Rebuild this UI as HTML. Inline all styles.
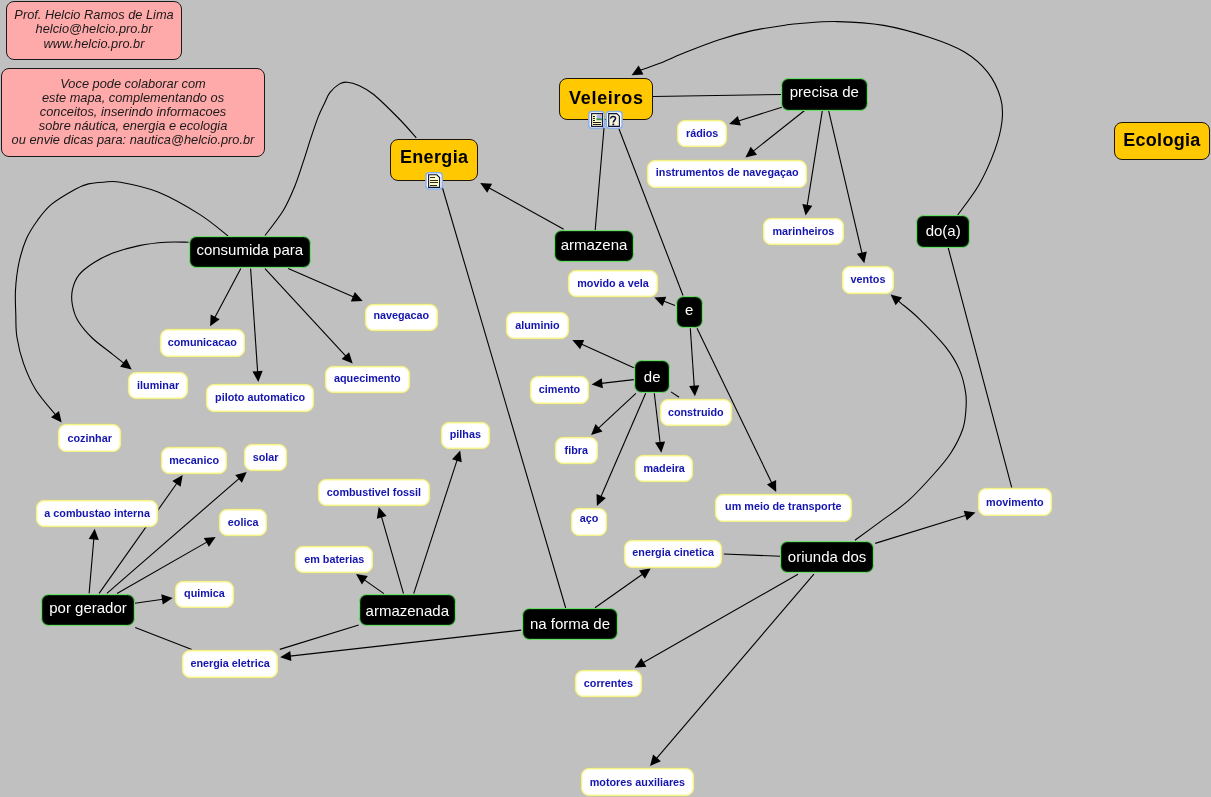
<!DOCTYPE html><html><head><meta charset="utf-8"><style>
*{margin:0;padding:0;box-sizing:border-box}
html,body{width:1211px;height:797px;overflow:hidden;background:#c0c0c0}
body{position:relative;font-family:"Liberation Sans",sans-serif}
svg.e{position:absolute;left:0;top:0}
svg.e path{fill:none;stroke:#000;stroke-width:1.1}
svg.e polygon{fill:#000}
.n{position:absolute;will-change:transform;display:flex;align-items:center;justify-content:center;white-space:nowrap}
.Y{background:#ffc800;border:1px solid #1e1408;border-radius:8px;font-weight:bold;font-size:18px;color:#000;padding-bottom:3px}
.B{background:#000;border:1.8px solid #6ade6a;box-shadow:inset 0 0 0.8px 0.6px #1a5a1a;border-radius:7.5px;font-size:15px;color:#fff;padding-bottom:4px}
.W{background:#fff;border:1.6px solid #f4f288;box-shadow:0 0 0 0.5px #cfcc90,inset 0 0 0.6px 0.8px #fbfabc;border-radius:8px;font-weight:bold;font-size:10.8px;color:#1414b0;padding-bottom:2px}
.P{position:absolute;will-change:transform;background:#ffaaaa;border:1px solid #1a1a1a;border-radius:8px;font-style:italic;font-size:12.8px;color:#1a1a1a;text-align:center;line-height:14.2px}
svg.ic{position:absolute}
</style></head><body>
<svg class="e" width="1211" height="797" viewBox="0 0 1211 797">
<path d="M604.00,128.00 L595.20,230.00"/>
<path d="M619.00,129.00 L683.00,295.50"/>
<path d="M563.70,229.20 L488.77,187.74"/>
<polygon points="480.2,183.0 492.1,183.8 487.2,192.7"/>
<path d="M442.50,188.00 L565.70,608.00"/>
<path d="M416.30,137.80 C413.47,134.67 406.40,126.22 399.30,119.00 C392.20,111.78 380.45,100.10 373.70,94.50 C366.95,88.90 363.25,87.45 358.80,85.40 C354.35,83.35 350.20,82.45 347.00,82.20 C343.80,81.95 342.43,82.20 339.60,83.90 C336.77,85.60 332.50,89.22 330.00,92.40 C327.50,95.58 326.57,98.92 324.60,103.00 C322.63,107.08 320.50,111.03 318.20,116.90 C315.90,122.77 313.28,130.73 310.80,138.20 C308.32,145.67 305.97,153.70 303.30,161.70 C300.63,169.70 298.17,178.02 294.80,186.20 C291.43,194.38 288.07,202.58 283.10,210.80 C278.13,219.02 268.02,231.38 265.00,235.50"/>
<path d="M653.00,96.50 L782.50,94.50"/>
<path d="M781.80,107.20 L738.44,121.02"/>
<polygon points="729.1,124.0 737.8,115.9 740.9,125.6"/>
<path d="M804.90,110.20 L753.08,151.31"/>
<polygon points="745.4,157.4 750.7,146.7 757.0,154.7"/>
<path d="M822.40,110.20 L807.14,205.92"/>
<polygon points="805.6,215.6 802.3,204.1 812.3,205.7"/>
<path d="M828.50,110.20 L862.07,253.66"/>
<polygon points="864.3,263.2 856.9,253.8 866.8,251.5"/>
<path d="M957.30,215.50 C960.92,210.37 972.75,195.60 979.00,184.70 C985.25,173.80 990.97,160.68 994.80,150.10 C998.63,139.52 1001.03,129.87 1002.00,121.20 C1002.97,112.53 1003.00,106.27 1000.60,98.10 C998.20,89.93 993.62,79.88 987.60,72.20 C981.58,64.52 974.12,57.78 964.50,52.00 C954.88,46.22 943.37,41.93 929.90,37.50 C916.43,33.07 899.10,28.05 883.70,25.40 C868.30,22.75 851.45,21.92 837.50,21.60 C823.55,21.28 808.72,22.90 800.00,23.50 C791.28,24.10 793.18,24.02 785.20,25.20 C777.22,26.38 763.12,28.18 752.10,30.60 C741.08,33.02 730.10,36.12 719.10,39.70 C708.10,43.28 695.73,48.25 686.10,52.10 C676.47,55.95 668.73,59.85 661.30,62.80 C653.87,65.75 645.02,68.52 641.50,69.80 C637.98,71.08 640.42,70.39 640.20,70.51"/>
<polygon points="631.6,75.2 638.6,65.6 643.5,74.5"/>
<path d="M1011.80,487.90 L948.00,247.00"/>
<path d="M875.20,543.40 L966.14,515.29"/>
<polygon points="975.5,512.4 966.7,520.5 963.7,510.7"/>
<path d="M854.90,540.20 C859.53,536.82 873.80,526.48 882.70,519.90 C891.60,513.32 899.77,508.35 908.30,500.70 C916.83,493.05 926.78,482.00 933.90,474.00 C941.02,466.00 946.20,460.17 951.00,452.70 C955.80,445.23 960.22,436.32 962.70,429.20 C965.18,422.08 965.42,416.13 965.90,410.00 C966.38,403.87 966.68,399.13 965.60,392.40 C964.52,385.67 962.77,377.22 959.40,369.60 C956.03,361.98 952.13,355.20 945.40,346.70 C938.67,338.20 926.47,325.92 919.00,318.60 C911.53,311.28 904.08,305.78 900.60,302.80 C897.12,299.82 898.52,301.05 898.10,300.70"/>
<polygon points="890.6,294.4 902.1,297.4 895.6,305.3"/>
<path d="M723.80,554.00 L780.60,556.30"/>
<path d="M798.00,574.30 L643.01,662.84"/>
<polygon points="634.5,667.7 641.3,657.9 646.4,666.8"/>
<path d="M813.90,574.10 L656.36,758.65"/>
<polygon points="650.0,766.1 653.1,754.6 660.9,761.2"/>
<path d="M595.00,607.80 L642.80,573.96"/>
<polygon points="650.8,568.3 644.9,578.7 639.0,570.4"/>
<path d="M521.20,630.10 L289.84,656.11"/>
<polygon points="280.1,657.2 290.3,650.9 291.4,661.1"/>
<path d="M358.70,625.00 L279.80,649.40"/>
<path d="M135.20,627.40 L191.80,649.40"/>
<path d="M89.10,593.40 L93.85,538.46"/>
<polygon points="94.7,528.7 98.8,539.9 88.7,539.0"/>
<path d="M99.10,593.40 L177.05,483.01"/>
<polygon points="182.7,475.0 180.6,486.8 172.3,480.9"/>
<path d="M106.90,593.40 L239.30,478.33"/>
<polygon points="246.7,471.9 241.9,482.8 235.2,475.1"/>
<path d="M117.00,593.40 L207.19,541.86"/>
<polygon points="215.7,537.0 208.9,546.8 203.8,537.9"/>
<path d="M134.80,603.20 L162.99,599.26"/>
<polygon points="172.7,597.9 162.7,604.4 161.3,594.3"/>
<path d="M383.90,593.60 L364.02,579.63"/>
<polygon points="356.0,574.0 367.8,576.0 361.9,584.4"/>
<path d="M403.50,593.60 L381.40,516.42"/>
<polygon points="378.7,507.0 386.6,516.0 376.8,518.8"/>
<path d="M413.70,593.60 L457.17,459.82"/>
<polygon points="460.2,450.5 461.7,462.3 452.0,459.2"/>
<path d="M675.00,305.50 L663.46,301.09"/>
<polygon points="654.3,297.6 666.2,296.7 662.6,306.2"/>
<path d="M690.30,328.30 L694.24,386.52"/>
<polygon points="694.9,396.3 689.1,385.9 699.3,385.2"/>
<path d="M697.00,328.30 L771.93,483.18"/>
<polygon points="776.2,492.0 766.9,484.5 776.1,480.1"/>
<path d="M633.80,367.80 L581.24,344.12"/>
<polygon points="572.3,340.1 584.2,339.9 580.1,349.2"/>
<path d="M633.80,379.60 L601.33,383.37"/>
<polygon points="591.6,384.5 601.7,378.2 602.9,388.3"/>
<path d="M635.90,393.30 L598.27,428.41"/>
<polygon points="591.1,435.1 595.5,424.0 602.5,431.5"/>
<path d="M645.70,393.30 L600.80,496.91"/>
<polygon points="596.9,505.9 596.5,494.0 605.9,498.0"/>
<path d="M654.30,393.30 L660.15,442.97"/>
<polygon points="661.3,452.7 655.0,442.6 665.1,441.4"/>
<path d="M671.00,391.90 L679.10,397.30"/>
<path d="M240.80,268.60 L214.70,317.65"/>
<polygon points="210.1,326.3 210.7,314.4 219.7,319.2"/>
<path d="M250.60,268.60 L257.64,372.12"/>
<polygon points="258.3,381.9 252.5,371.5 262.7,370.8"/>
<path d="M265.00,268.60 L346.05,356.40"/>
<polygon points="352.7,363.6 341.6,359.1 349.1,352.2"/>
<path d="M288.20,268.60 L353.71,297.09"/>
<polygon points="362.7,301.0 350.8,301.4 354.8,292.0"/>
<path d="M188.50,242.20 C184.68,242.20 173.82,241.63 165.60,242.20 C157.38,242.77 147.98,243.78 139.20,245.60 C130.42,247.42 120.42,250.28 112.90,253.10 C105.38,255.92 99.75,258.88 94.10,262.50 C88.45,266.12 82.62,270.25 79.00,274.80 C75.38,279.35 73.50,284.77 72.40,289.80 C71.30,294.83 71.45,299.80 72.40,305.00 C73.35,310.20 74.80,315.50 78.10,321.00 C81.40,326.50 86.72,332.67 92.20,338.00 C97.68,343.33 105.70,348.78 111.00,353.00 C116.30,357.22 121.85,361.60 124.02,363.31"/>
<polygon points="131.7,369.4 120.1,366.7 126.4,358.7"/>
<path d="M228.00,236.00 C223.33,232.43 211.67,221.93 200.00,214.60 C188.33,207.27 171.27,197.40 158.00,192.00 C144.73,186.60 129.48,183.83 120.40,182.20 C111.32,180.57 108.83,181.92 103.50,182.20 C98.17,182.48 93.10,182.73 88.40,183.90 C83.70,185.07 81.42,185.82 75.30,189.20 C69.18,192.58 57.98,199.03 51.70,204.20 C45.42,209.37 41.83,214.40 37.60,220.20 C33.37,226.00 29.43,231.78 26.30,239.00 C23.17,246.22 20.60,255.00 18.80,263.50 C17.00,272.00 16.00,281.50 15.50,290.00 C15.00,298.50 15.57,306.67 15.80,314.50 C16.03,322.33 15.62,328.85 16.90,337.00 C18.18,345.15 20.37,354.62 23.50,363.40 C26.63,372.18 30.35,381.11 35.70,389.70 C41.05,398.29 52.30,410.71 55.62,414.91"/>
<polygon points="61.7,422.6 51.0,417.3 59.0,411.0"/>
</svg>
<div class="n Y" style="left:559px;top:78px;width:94.0px;height:42.0px;letter-spacing:0.7px;padding-bottom:2px;padding-left:0.7px">Veleiros</div>
<div class="n Y" style="left:390px;top:139px;width:88.0px;height:41.5px;letter-spacing:0.35px;padding-bottom:5px;padding-left:0.35px">Energia</div>
<div class="n Y" style="left:1114px;top:122px;width:95.5px;height:38.0px;letter-spacing:0.3px;padding-bottom:2px;padding-left:0.3px">Ecologia</div>
<div class="n B" style="left:781.3px;top:77.5px;width:86.7px;height:32.5px;padding-bottom:6px">precisa de</div>
<div class="n B" style="left:915.7px;top:215.1px;width:54.4px;height:33.0px;padding-bottom:3px">do(a)</div>
<div class="n B" style="left:554.0px;top:229.7px;width:80.0px;height:32.2px;">armazena</div>
<div class="n B" style="left:188.5px;top:235.5px;width:121.5px;height:31.7px;">consumida para</div>
<div class="n B" style="left:40.5px;top:593.5px;width:94.0px;height:32.0px;padding-bottom:6px">por gerador</div>
<div class="n B" style="left:359.4px;top:593.6px;width:96.6px;height:32.4px;padding-bottom:0">armazenada</div>
<div class="n B" style="left:522.2px;top:607.7px;width:95.9px;height:32.3px;padding-bottom:2px">na forma de</div>
<div class="n B" style="left:675.5px;top:295.7px;width:26.5px;height:31.8px;">e</div>
<div class="n B" style="left:634.0px;top:359.5px;width:36.3px;height:32.8px;padding-bottom:0;padding-top:1.2px">de</div>
<div class="n B" style="left:780.2px;top:541.3px;width:94.1px;height:31.9px;padding-bottom:0.5px">oriunda dos</div>
<div class="n W" style="left:677px;top:120px;width:50.3px;height:27.3px;">rádios</div>
<div class="n W" style="left:647px;top:160px;width:160.4px;height:27.5px;padding-bottom:4px">instrumentos de navegaçao</div>
<div class="n W" style="left:762.5px;top:218px;width:80.8px;height:27.2px;">marinheiros</div>
<div class="n W" style="left:842.2px;top:265.5px;width:52.0px;height:28.1px;">ventos</div>
<div class="n W" style="left:978.2px;top:488.3px;width:73.8px;height:27.5px;padding-bottom:0.5px">movimento</div>
<div class="n W" style="left:159.5px;top:328.7px;width:84.5px;height:27.7px;">comunicacao</div>
<div class="n W" style="left:128px;top:372.2px;width:60.2px;height:26.6px;padding-bottom:0">iluminar</div>
<div class="n W" style="left:205.7px;top:384.4px;width:108.1px;height:27.6px;">piloto automatico</div>
<div class="n W" style="left:58.3px;top:424.2px;width:63.4px;height:27.5px;padding-bottom:0">cozinhar</div>
<div class="n W" style="left:364.7px;top:304px;width:72.6px;height:27.2px;padding-bottom:6px">navegacao</div>
<div class="n W" style="left:324.5px;top:366px;width:84.6px;height:26.9px;">aquecimento</div>
<div class="n W" style="left:161px;top:446.8px;width:66.3px;height:27.2px;">mecanico</div>
<div class="n W" style="left:244px;top:444px;width:43.3px;height:27.0px;">solar</div>
<div class="n W" style="left:36px;top:500px;width:122.2px;height:27.1px;">a combustao interna</div>
<div class="n W" style="left:219px;top:509px;width:48.2px;height:27.0px;">eolica</div>
<div class="n W" style="left:174.6px;top:581px;width:58.9px;height:26.5px;">quimica</div>
<div class="n W" style="left:182px;top:650.3px;width:96.1px;height:27.7px;">energia eletrica</div>
<div class="n W" style="left:441px;top:422.2px;width:48.6px;height:26.8px;">pilhas</div>
<div class="n W" style="left:318.2px;top:479px;width:111.8px;height:27.0px;">combustivel fossil</div>
<div class="n W" style="left:295px;top:546.3px;width:78.4px;height:27.2px;">em baterias</div>
<div class="n W" style="left:555px;top:436.8px;width:42.5px;height:27.3px;">fibra</div>
<div class="n W" style="left:571px;top:507.5px;width:36.2px;height:27.5px;padding-bottom:6.6px">aço</div>
<div class="n W" style="left:634.8px;top:454.7px;width:58.3px;height:27.3px;">madeira</div>
<div class="n W" style="left:660.2px;top:399px;width:71.6px;height:26.8px;padding-bottom:0">construido</div>
<div class="n W" style="left:530px;top:376.3px;width:59.0px;height:27.7px;">cimento</div>
<div class="n W" style="left:506.4px;top:311.9px;width:62.9px;height:27.3px;">aluminio</div>
<div class="n W" style="left:568.3px;top:270.1px;width:89.9px;height:27.4px;">movido a vela</div>
<div class="n W" style="left:714.7px;top:494px;width:136.6px;height:27.5px;padding-bottom:4px">um meio de transporte</div>
<div class="n W" style="left:624.2px;top:540px;width:98.2px;height:27.6px;padding-bottom:4.6px">energia cinetica</div>
<div class="n W" style="left:574.7px;top:670.1px;width:66.8px;height:27.1px;">correntes</div>
<div class="n W" style="left:580.6px;top:768.2px;width:112.8px;height:27.7px;padding-bottom:0">motores auxiliares</div>
<svg class="ic" style="left:0;top:0" width="1211" height="797"><rect x="588.8" y="111.6" width="15.3" height="16.7" rx="3" fill="#fff" stroke="#8ab2ea" stroke-width="1.5"/><rect x="591.6" y="113.6" width="10.8" height="12.8" fill="#ffffd2" stroke="#10103c" stroke-width="1.1"/><rect x="596.6" y="114.2" width="5.2" height="6.0" fill="#a8b8e8"/><rect x="596.6" y="118.5" width="5.2" height="1.7" fill="#3a8a3a"/><rect x="600" y="114.2" width="1.8" height="1.8" fill="#f0a070"/><g fill="#1a1a10"><rect x="593" y="116" width="2" height="1"/><rect x="593" y="118" width="2" height="1"/><rect x="593" y="120" width="2" height="1"/><rect x="593" y="122" width="8" height="1"/><rect x="593" y="124" width="8" height="1"/></g><rect x="606.3" y="111.6" width="15.8" height="16.7" rx="3" fill="#fff" stroke="#8ab2ea" stroke-width="1.5"/><path d="M608.7,113.6 H616.8 L619.4,116.2 V126.4 H608.7 Z" fill="#f4f4d8" stroke="#10103c" stroke-width="1.1"/><path d="M610.7,118.6 C610.5,115.9 615.6,115.5 615.5,118.5 C615.4,120.3 613.3,120.5 613.3,122.6" fill="none" stroke="#10103c" stroke-width="1.5"/><rect x="612.4" y="123.6" width="1.8" height="1.7" fill="#10103c"/><rect x="426.0" y="172.7" width="16.3" height="16.3" rx="3" fill="#fff" stroke="#8ab2ea" stroke-width="1.5"/><path d="M428.6,174.8 H436.8 L439.6,177.6 V187.4 H428.6 Z" fill="#ffffd2" stroke="#10103c" stroke-width="1.1"/><g fill="#2a2a10"><rect x="430" y="177" width="5" height="1"/><rect x="430" y="180" width="8" height="1"/><rect x="430" y="182" width="8" height="1"/><rect x="430" y="185" width="7" height="1"/></g></svg>
<div class="P" style="left:6px;top:1px;width:176px;height:58.5px;padding-top:6.2px">Prof. Helcio Ramos de Lima<br>helcio@helcio.pro.br<br>www.helcio.pro.br</div>
<div class="P" style="left:1px;top:68px;width:264px;height:88.5px;padding-top:7.5px">Voce pode colaborar com<br>este mapa, complementando os<br>conceitos, inserindo informacoes<br>sobre náutica, energia e ecologia<br>ou envie dicas para: nautica@helcio.pro.br</div>
</body></html>
